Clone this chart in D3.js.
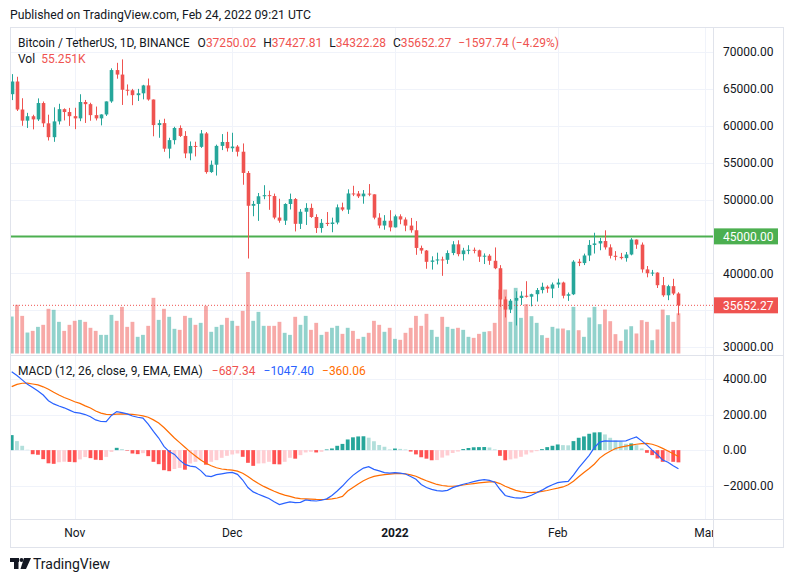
<!DOCTYPE html>
<html>
<head>
<meta charset="utf-8">
<script src="https://cdn.jsdelivr.net/npm/d3@7"></script>
<style>
body{margin:0;background:#fff;}
svg text{font-family:Roboto,"Liberation Sans",sans-serif;}
</style>
</head>
<body>
<div id="chart"></div>
<script>
// daily BTCUSDT candles, Oct 20 2021 .. Feb 24 2022
var dates = ["2021-10-20","2021-10-21","2021-10-22","2021-10-23","2021-10-24","2021-10-25","2021-10-26","2021-10-27","2021-10-28","2021-10-29","2021-10-30","2021-10-31",
"2021-11-01","2021-11-02","2021-11-03","2021-11-04","2021-11-05","2021-11-06","2021-11-07","2021-11-08","2021-11-09","2021-11-10","2021-11-11","2021-11-12","2021-11-13","2021-11-14","2021-11-15","2021-11-16","2021-11-17","2021-11-18","2021-11-19","2021-11-20","2021-11-21","2021-11-22","2021-11-23","2021-11-24","2021-11-25","2021-11-26","2021-11-27","2021-11-28","2021-11-29","2021-11-30",
"2021-12-01","2021-12-02","2021-12-03","2021-12-04","2021-12-05","2021-12-06","2021-12-07","2021-12-08","2021-12-09","2021-12-10","2021-12-11","2021-12-12","2021-12-13","2021-12-14","2021-12-15","2021-12-16","2021-12-17","2021-12-18","2021-12-19","2021-12-20","2021-12-21","2021-12-22","2021-12-23","2021-12-24","2021-12-25","2021-12-26","2021-12-27","2021-12-28","2021-12-29","2021-12-30","2021-12-31",
"2022-01-01","2022-01-02","2022-01-03","2022-01-04","2022-01-05","2022-01-06","2022-01-07","2022-01-08","2022-01-09","2022-01-10","2022-01-11","2022-01-12","2022-01-13","2022-01-14","2022-01-15","2022-01-16","2022-01-17","2022-01-18","2022-01-19","2022-01-20","2022-01-21","2022-01-22","2022-01-23","2022-01-24","2022-01-25","2022-01-26","2022-01-27","2022-01-28","2022-01-29","2022-01-30","2022-01-31",
"2022-02-01","2022-02-02","2022-02-03","2022-02-04","2022-02-05","2022-02-06","2022-02-07","2022-02-08","2022-02-09","2022-02-10","2022-02-11","2022-02-12","2022-02-13","2022-02-14","2022-02-15","2022-02-16","2022-02-17","2022-02-18","2022-02-19","2022-02-20","2022-02-21","2022-02-22","2022-02-23","2022-02-24"]

var open = [64280,66000,62200,60690,61290,60860,63080,60330,58450,60590,62250,61860,
61300,61000,63220,62930,61440,61000,61530,63300,67550,66940,64880,64810,64150,64400,65470,63560,60090,60360,56890,58050,59700,58620,56250,57260,57140,58960,53720,54720,57270,57800,
56950,57180,56480,53600,49150,49400,50440,50590,50470,47550,47130,49390,50060,46700,48340,48860,47630,46130,46830,46680,46880,48940,48630,50820,50810,50430,50800,50700,47540,46470,47120,
46220,47720,47290,46460,45830,43430,43080,41550,41730,41870,41820,42740,43920,42590,43100,43180,43110,42250,42380,41690,40680,36450,35070,36280,36650,36950,36820,37160,37720,38170,37920,
38480,38740,36950,37150,41570,41380,42410,43840,44040,44370,43510,42370,42220,42050,42540,44570,43880,40520,40000,40090,38380,37010,38250,37250.02]
var high = [67000,66640,63730,61750,61490,63710,63290,61500,62500,62980,62360,62420,
62440,64270,63500,63120,62600,61550,63300,67790,68530,69000,65600,65000,65000,65550,66400,63560,60800,60950,58370,59860,60050,59270,57870,57840,59420,59150,55280,57440,58870,59180,
59050,57380,57600,53860,49800,50880,51940,51200,50800,50100,49490,50800,50200,48700,49500,49440,48000,47360,48300,47540,49330,49570,51380,51860,51150,51280,52090,50700,48140,47880,48550,
47950,47990,47570,47500,47070,43750,43150,42300,42790,42250,43100,44350,44470,43450,43800,43480,43200,42690,42590,43500,41100,36840,36500,37550,37550,38920,37230,38000,38720,38360,38740,
39270,38860,37390,41770,41950,42660,44500,45490,44800,45820,43920,43000,42760,42880,44770,44590,44170,40980,40450,40130,39490,38440,39250,37427.81]
var low = [63480,62000,60000,59700,59510,60650,59820,58000,57820,60170,60720,59980,
59540,60620,60380,60680,60720,60050,61330,63110,66380,62820,64100,62790,63360,63580,63400,58570,58370,56470,55570,57470,58480,55610,55320,55840,57000,53500,53610,53250,56700,56500,
56460,55840,52000,42000,47730,47100,50040,48600,47320,46850,46550,48650,45670,46000,46550,47510,45460,45500,46400,45560,46630,48420,48050,50460,50200,49430,50450,47310,46100,45900,45680,
46200,46650,45700,45500,42500,42650,40610,40500,41200,39650,41270,42450,42300,41730,42580,42700,41540,41250,41140,40550,35440,34010,34600,32920,35700,36700,35510,36160,37270,37350,36630,
38020,36590,36250,37040,40970,41110,41650,42670,43120,43210,42000,41750,41870,41570,42430,43310,40080,39450,39640,38000,36800,36350,37040,34322.28]
var close = [66000,62200,60690,61290,60860,63080,60330,58450,60590,62250,61860,61300,
61000,63220,62930,61440,61000,61530,63300,67550,66940,64880,64810,64150,64400,65470,63560,60090,60360,56890,58050,59700,58620,56250,57260,57140,58960,53720,54720,57270,57800,56950,
57180,56480,53600,49150,49400,50440,50590,50470,47550,47130,49390,50060,46700,48340,48860,47630,46130,46830,46680,46880,48940,48630,50820,50810,50430,50800,50700,47540,46470,47120,46220,
47720,47290,46460,45830,43430,43080,41550,41730,41870,41820,42740,43920,42590,43100,43180,43110,42250,42380,41690,40680,36450,35070,36280,36650,36950,36820,37160,37720,38170,37920,38480,
38740,36950,37150,41570,41380,42410,43840,44040,44370,43510,42370,42220,42050,42540,44570,43880,40520,40000,40090,38380,37010,38250,37250,35652.27]
// volume, thousands of BTC
var volume = [50.8,66.9,51.7,28.8,31.1,36.6,39.4,61.4,60.0,43.5,31.1,39.4,
44.9,46.2,43.5,35.3,31.1,25.6,25.6,53.1,44.9,64.1,36.6,43.5,22.9,25.6,38.0,76.5,46.2,61.4,50.4,33.9,32.5,51.7,49.0,39.4,42.1,65.5,29.8,36.6,39.4,49.0,
44.9,38.0,58.6,112,44.9,57.2,38.0,38.0,38.0,43.5,28.4,25.6,50.4,39.4,51.7,32.5,42.1,25.6,29.8,35.3,38.0,27.0,35.3,31.1,20.1,22.9,28.4,44.9,39.4,29.8,35.3,
20.1,18.8,28.4,35.3,51.7,38.0,54.5,32.5,22.9,50.4,36.6,33.9,35.3,32.5,22.9,21.5,27.0,29.8,30.7,42.1,87.9,87.9,43.5,90.2,49.0,67.8,51.3,42.1,25.2,21.5,36.6,
34.3,34.3,32.0,64.1,32.0,22.9,49.5,64.1,40.3,60.4,44.4,26.6,17.4,33.0,37.5,27.5,45.8,43.5,18.3,33.0,60.4,52.7,43.5,55.251]
// MACD (12, 26, 9)
var macd = [4410,4200,3950,3700,3520,3330,3100,2780,2600,2480,2380,2250,2120,2080,2000,1880,1700,1610,1600,1950,2170,
2110,2040,1920,1850,1800,1460,1050,680,210,-80,-240,-560,-800,-900,-940,-1150,-1450,-1490,-1380,-1330,-1280,-1250,-1360,-1680,-2100,-2350,-2480,-2600,-2720,-2900,-3060,-2980,-2910,-2950,-2940,
-2800,-2840,-2860,-2820,-2740,-2550,-2300,-2020,-1700,-1420,-1200,-1010,-930,-1080,-1170,-1260,-1290,-1270,-1290,-1340,-1480,-1640,-1930,-2100,-2210,-2280,-2310,-2260,-2110,-2010,
-1920,-1850,-1770,-1700,-1660,-1700,-1800,-2200,-2550,-2630,-2690,-2700,-2640,-2540,-2400,-2250,-2080,-1950,-1830,-1790,-1760,-1400,-1000,-650,-290,150,450,520,510,510,510,520,640,740,
520,280,0,-250,-560,-680,-880,-1047.40]
var signal = [3570,3700,3760,3765,3720,3670,3560,3420,3250,3100,2960,2850,2720,2630,2490,2370,2200,2080,2010,2000,2030,
2035,2030,2010,1975,1930,1850,1700,1530,1270,980,680,420,160,-100,-330,-560,-740,-880,-990,-1060,-1100,-1125,-1180,-1300,-1480,-1690,-1880,-2040,-2180,-2310,-2430,-2530,-2600,-2680,-2730,
-2740,-2755,-2770,-2775,-2770,-2745,-2690,-2600,-2300,-2100,-1900,-1720,-1580,-1480,-1420,-1380,-1350,-1325,-1315,-1330,-1390,-1470,-1600,-1720,-1830,-1930,-1990,-2020,-2030,-2010,
-1960,-1920,-1880,-1840,-1810,-1790,-1785,-1880,-2030,-2150,-2260,-2330,-2380,-2390,-2360,-2320,-2270,-2200,-2140,-2070,-1950,-1750,-1500,-1260,-1030,-780,-450,-230,-60,90,170,230,280,330,
370,380,330,230,100,-50,-200,-360.06]
var hist = [845,507,244,20,-230,-260,-507,-740,-770,-680,-650,-660,-680,-520,-390,-450,-540,-560,-380,-100,130,
56,-30,-190,-225,-170,-338,-657,-789,-1127,-1183,-1060,-1000,-1100,-750,-657,-563,-820,-657,-563,-432,-320,-244,-188,-375,-713,-883,-751,-740,-657,-789,-800,-657,-432,-480,-282,
-130,-94,-130,-94,38,94,244,350,600,720,770,780,700,500,290,190,40,90,70,35,-80,-240,-400,-480,-570,-560,-420,-300,-160,-80,
60,120,160,170,175,150,40,-320,-570,-520,-470,-375,-244,-131,-56,56,169,244,319,282,270,507,695,770,920,995,1005,883,695,545,470,357,376,282,
94,-150,-280,-470,-657,-620,-657,-687.34]

var priceTicks = [30000,35000,40000,45000,50000,55000,60000,65000,70000]
var macdTicks = [-2000,0,2000,4000]
var monthTicks = ["2021-11-01","2021-12-01","2022-01-01","2022-02-01","2022-03-01"]
var monthLabels = ["Nov","Dec","2022","Feb","Mar"]
var levelPrice = 45000
var lastPrice = 35652.27

var up = "#26a69a", down = "#ef5350", ink = "#131722"
var parse = d3.utcParse("%Y-%m-%d")
var days = dates.map(parse)

var svg = d3.select("#chart").append("svg").attr("width",793).attr("height",582)
var left = 10, right = 783, axisX = 713
var pTop = 28, pBot = 355, mTop = 356, mBot = 519, tBot = 547

var x = d3.scaleUtc().domain([parse("2021-10-20"), parse("2022-03-01")]).range([11.7, 704.7])
var y = d3.scaleLinear().domain([30000,70000]).range([347,52])
var yVol = d3.scaleLinear().domain([0,112]).range([353.5,272])
var yM = d3.scaleLinear().domain([-2000,4000]).range([485.7,379])

svg.append("clipPath").attr("id","plot").append("rect")
  .attr("x",left).attr("y",pTop).attr("width",axisX-left).attr("height",mBot-pTop)
svg.append("clipPath").attr("id","tclip").append("rect")
  .attr("x",left).attr("y",mBot).attr("width",axisX-left).attr("height",tBot-mBot)

// grid
var grid = svg.append("g").attr("stroke","#f0f3fa").attr("stroke-width",1)
priceTicks.forEach(function(t){
  grid.append("line").attr("x1",left).attr("x2",axisX).attr("y1",Math.round(y(t))+0.5).attr("y2",Math.round(y(t))+0.5)
})
macdTicks.forEach(function(t){
  grid.append("line").attr("x1",left).attr("x2",axisX).attr("y1",Math.round(yM(t))+0.5).attr("y2",Math.round(yM(t))+0.5)
})
monthTicks.forEach(function(t){
  var xx = Math.round(x(parse(t)))+0.5
  if (xx < axisX) grid.append("line").attr("x1",xx).attr("x2",xx).attr("y1",pTop).attr("y2",mBot)
})

var plot = svg.append("g").attr("clip-path","url(#plot)")

// volume
plot.selectAll("rect.vol").data(volume).enter().append("rect").attr("class","vol")
  .attr("x",function(d,i){return x(days[i])-1.9})
  .attr("width",3.8)
  .attr("y",function(d){return yVol(d)})
  .attr("height",function(d){return yVol(0)-yVol(d)})
  .attr("fill",function(d,i){return close[i]>=open[i] ? up : down})
  .attr("fill-opacity",0.5)

// last price dotted line
plot.append("line").attr("x1",left).attr("x2",axisX)
  .attr("y1",y(lastPrice)).attr("y2",y(lastPrice))
  .attr("stroke",down).attr("stroke-width",1).attr("stroke-dasharray","1,2")

// 45000 level
plot.append("line").attr("x1",left).attr("x2",axisX)
  .attr("y1",y(levelPrice)).attr("y2",y(levelPrice))
  .attr("stroke","#4caf50").attr("stroke-width",2)

// candles
var candle = plot.selectAll("g.c").data(days).enter().append("g").attr("class","c")
  .attr("fill",function(d,i){return close[i]>=open[i] ? up : down})
  .attr("stroke",function(d,i){return close[i]>=open[i] ? up : down})
candle.append("line")
  .attr("x1",function(d){return Math.round(x(d))+0.5}).attr("x2",function(d){return Math.round(x(d))+0.5})
  .attr("y1",function(d,i){return y(high[i])}).attr("y2",function(d,i){return y(low[i])})
  .attr("stroke-width",1)
candle.append("rect")
  .attr("x",function(d){return Math.round(x(d))+0.5-1.8}).attr("width",3.6)
  .attr("y",function(d,i){return y(Math.max(open[i],close[i]))})
  .attr("height",function(d,i){return Math.max(1,Math.abs(y(open[i])-y(close[i])))})
  .attr("stroke","none")

// MACD histogram
plot.selectAll("rect.h").data(hist).enter().append("rect").attr("class","h")
  .attr("x",function(d,i){return x(days[i])-1.9})
  .attr("width",3.8)
  .attr("y",function(d){return d>=0 ? yM(d) : yM(0)})
  .attr("height",function(d){return Math.abs(yM(d)-yM(0))})
  .attr("fill",function(d,i){
    var prev = i>0 ? hist[i-1] : -Infinity
    if (d>=0) return d>prev ? "#26a69a" : "#b2dfdb"
    return d>prev ? "#ffcdd2" : "#ff5252"
  })

var line = function(arr){
  return d3.line().x(function(d,i){return x(days[i])}).y(function(d){return yM(d)})(arr)
}
plot.append("path").attr("d",line(signal)).attr("fill","none").attr("stroke","#ff6d00").attr("stroke-width",1.2)
plot.append("path").attr("d",line(macd)).attr("fill","none").attr("stroke","#2962ff").attr("stroke-width",1.2)

// frame and separators
var frame = svg.append("g").attr("stroke","#e0e3eb").attr("fill","none")
frame.append("rect").attr("x",left+0.5).attr("y",27.5).attr("width",right-left).attr("height",tBot-27)
frame.append("line").attr("x1",left).attr("x2",right).attr("y1",pBot+0.5).attr("y2",pBot+0.5)
frame.append("line").attr("x1",left).attr("x2",right).attr("y1",mBot+0.5).attr("y2",mBot+0.5)
frame.append("line").attr("x1",axisX+0.5).attr("x2",axisX+0.5).attr("y1",27).attr("y2",tBot)

// right axes (labels under the price tags are hidden, as on the chart)
var fmt = d3.format(".2f")
svg.append("g").attr("transform","translate("+axisX+",0)")
  .call(d3.axisRight(y).tickValues(priceTicks.filter(function(t){
    return Math.abs(y(t)-y(levelPrice))>12 && Math.abs(y(t)-y(lastPrice))>12
  })).tickFormat(fmt).tickSize(0).tickPadding(10))
svg.append("g").attr("transform","translate("+axisX+",0)")
  .call(d3.axisRight(yM).tickValues(macdTicks).tickFormat(fmt).tickSize(0).tickPadding(10))
svg.selectAll(".domain").remove()
svg.selectAll(".tick text").attr("font-family","Roboto, sans-serif").attr("font-size",12).attr("fill",ink)

// price tags
function tag(v, color){
  var g = svg.append("g")
  g.append("rect").attr("x",axisX+1).attr("y",y(v)-8).attr("width",64).attr("height",16).attr("fill",color)
  g.append("text").attr("x",axisX+10).attr("y",y(v)+4.2).attr("font-size",12).attr("fill","#fff").text(fmt(v))
}
tag(levelPrice,"#4caf50")
tag(lastPrice,down)

// time axis
var tAxis = svg.append("g").attr("clip-path","url(#tclip)")
tAxis.selectAll("text").data(monthTicks).enter().append("text")
  .attr("x",function(d){return x(parse(d))}).attr("y",537)
  .attr("text-anchor","middle").attr("font-size",12).attr("fill",ink)
  .attr("font-weight",function(d,i){return monthLabels[i]=="2022" ? "bold" : "normal"})
  .text(function(d,i){return monthLabels[i]})

// header and legends
svg.append("text").attr("x",10).attr("y",19).attr("font-size",12.2).attr("fill",ink)
  .text("Published on TradingView.com, Feb 24, 2022 09:21 UTC")

function legendRow(yy, parts){
  var t = svg.append("text").attr("x",18).attr("y",yy).attr("font-size",12)
  parts.forEach(function(p){
    t.append("tspan").attr("dx",p[2]).attr("fill",p[1]).text(p[0])
  })
}
legendRow(46.5, [
  ["Bitcoin / TetherUS, 1D, BINANCE",ink,0],
  ["O",ink,8],["37250.02",down,0],
  ["H",ink,7],["37427.81",down,0],
  ["L",ink,7],["34322.28",down,0],
  ["C",ink,7],["35652.27",down,0],
  ["\u22121597.74 (\u22124.29%)",down,7]
])
legendRow(63, [["Vol",ink,0],["55.251K",down,6]])
legendRow(374.5, [
  ["MACD (12, 26, close, 9, EMA, EMA)",ink,0],
  ["\u2212687.34",down,9],
  ["\u22121047.40","#2962ff",8],
  ["\u2212360.06","#ff6d00",8]
])

// TradingView mark
var logo = svg.append("g").attr("fill",ink)
logo.append("rect").attr("x",10).attr("y",558).attr("width",9).attr("height",4)
logo.append("rect").attr("x",14).attr("y",558).attr("width",4.5).attr("height",11)
logo.append("circle").attr("cx",21.5).attr("cy",560).attr("r",2)
logo.append("path").attr("d","M24,558 L31,558 L26,569 L20.5,569 Z")
svg.append("text").attr("x",33).attr("y",568.5).attr("font-size",14).attr("fill",ink).text("TradingView")
</script>
</body>
</html>
